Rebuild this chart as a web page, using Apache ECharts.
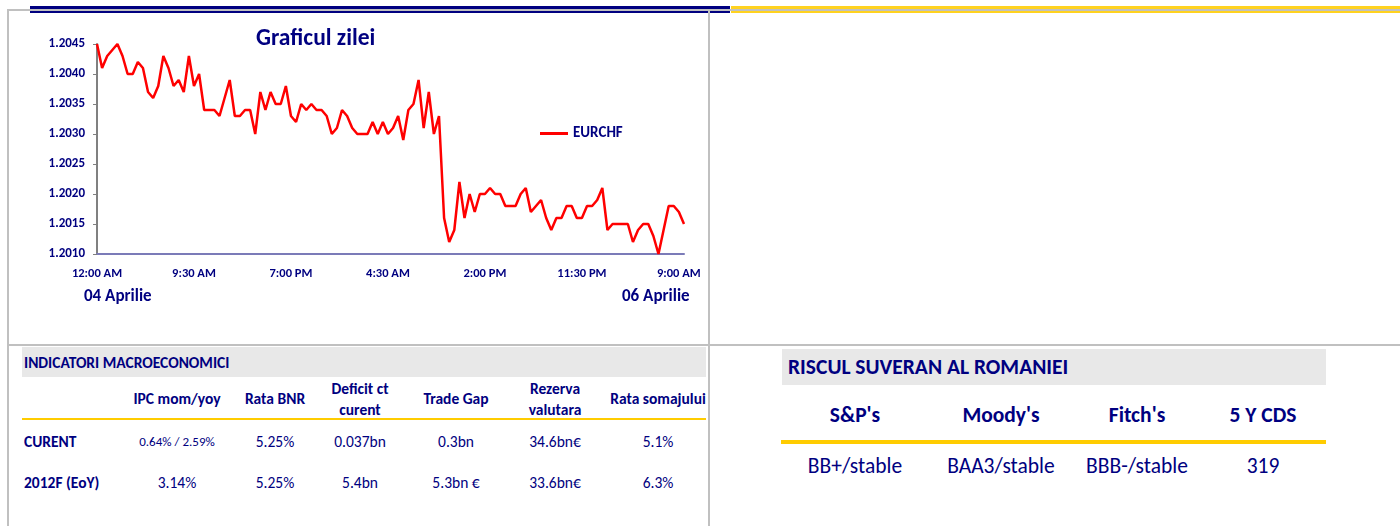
<!DOCTYPE html>
<html>
<head>
<meta charset="utf-8">
<script src="https://cdn.jsdelivr.net/npm/echarts/dist/echarts.min.js"></script>
<style>
  body { margin: 0; width: 1400px; height: 526px; overflow: hidden; background: #fff;
         font-family: Carlito, Lato, "Liberation Sans", sans-serif; color: #000080; position: relative; }
  .abs { position: absolute; }
  .c { position: absolute; transform: translate(-50%, -50%); white-space: nowrap; text-align: center; }
  .l { position: absolute; transform: translate(0, -50%); white-space: nowrap; }
  #graficzilei { position: absolute; left: 0; top: 0; width: 708px; height: 345px; z-index: 2; }
</style>
</head>
<body>
<!-- benzi sus -->
<div class="abs" style="left:30px;top:6px;width:700px;height:3px;background:#000080"></div>
<div class="abs" style="left:30px;top:11px;width:700px;height:2px;background:#000080"></div>
<div class="abs" style="left:731px;top:6px;width:669px;height:3px;background:#ffd21f"></div>
<div class="abs" style="left:731px;top:11px;width:669px;height:2px;background:#ffd21f"></div>
<div class="abs" style="left:7px;top:9px;width:1393px;height:2px;background:#c0c0c0"></div>
<!-- chenar -->
<div class="abs" style="left:7px;top:9px;width:2px;height:517px;background:#c0c0c0"></div>
<div class="abs" style="left:708px;top:9px;width:2px;height:517px;background:#c0c0c0"></div>
<div class="abs" style="left:7px;top:344px;width:1393px;height:2px;background:#c0c0c0"></div>

<div id="graficzilei"></div>
<div id="macro"></div>
<div id="risc"></div>

<script>
  // EURCHF, din 30 in 30 de minute, 04 Aprilie 12:00 AM -> 06 Aprilie 9:30 AM
  var eurchf = [
    1.2045, 1.2041, 1.2043, 1.2044, 1.2045, 1.2043, 1.2040, 1.2040, 1.2042, 1.2041,
    1.2037, 1.2036, 1.2038, 1.2043, 1.2041, 1.2038, 1.2039, 1.2037, 1.2043, 1.2038,
    1.2040, 1.2034, 1.2034, 1.2034, 1.2033, 1.2036, 1.2039, 1.2033, 1.2033, 1.2034,
    1.2034, 1.2030, 1.2037, 1.2034, 1.2037, 1.2035, 1.2035, 1.2038, 1.2033, 1.2032,
    1.2035, 1.2034, 1.2035, 1.2034, 1.2034, 1.2033, 1.2030, 1.2031, 1.2034, 1.2033,
    1.2031, 1.2030, 1.2030, 1.2030, 1.2032, 1.2030, 1.2032, 1.2030, 1.2031, 1.2033,
    1.2029, 1.2034, 1.2035, 1.2039, 1.2031, 1.2037, 1.2030, 1.2033, 1.2016, 1.2012,
    1.2014, 1.2022, 1.2016, 1.2020, 1.2017, 1.2020, 1.2020, 1.2021, 1.2020, 1.2020,
    1.2018, 1.2018, 1.2018, 1.2020, 1.2021, 1.2017, 1.2018, 1.2019, 1.2016, 1.2014,
    1.2016, 1.2016, 1.2018, 1.2018, 1.2016, 1.2016, 1.2018, 1.2018, 1.2019, 1.2021,
    1.2014, 1.2015, 1.2015, 1.2015, 1.2015, 1.2012, 1.2014, 1.2015, 1.2015, 1.2013,
    1.2010, 1.2014, 1.2018, 1.2018, 1.2017, 1.2015
  ];

  // ore (categorii)
  var ore = [];
  for (var i = 0; i < eurchf.length; i++) {
    var m = i * 30, h = Math.floor(m / 60) % 24;
    var h12 = h % 12 === 0 ? 12 : h % 12;
    ore.push(h12 + ':' + (m % 60 ? '30' : '00') + ' ' + (h < 12 ? 'AM' : 'PM'));
  }

  var yMin = 1.2010, yMax = 1.2045, yStep = 0.0005;
  var zile = ['04 Aprilie', '06 Aprilie'];

  // tabel indicatori
  var macroCapete = [['IPC mom/yoy'], ['Rata BNR'], ['Deficit ct', 'curent'], ['Trade Gap'], ['Rezerva', 'valutara'], ['Rata somajului']];
  var macroRanduri = ['CURENT', '2012F (EoY)'];
  var macroCurent = ['0.64% / 2.59%', '5.25%', '0.037bn', '0.3bn', '34.6bn€', '5.1%'];
  var macro2012 = ['3.14%', '5.25%', '5.4bn', '5.3bn €', '33.6bn€', '6.3%'];

  // tabel risc suveran
  var agentii = ["S&P's", "Moody's", "Fitch's", '5 Y CDS'];
  var ratinguri = ['BB+/stable', 'BAA3/stable', 'BBB-/stable', '319'];

  var navy = '#000080';
  var font = 'Carlito, Lato, "Liberation Sans", sans-serif';

  function initMap() {
    var chart = echarts.init(document.getElementById('graficzilei'));
    var option = {
      animation: false,
      textStyle: { fontFamily: font },
      title: {
        text: 'Graficul zilei', left: 256, top: 27, padding: 0,
        textStyle: { color: navy, fontSize: 23.5, fontWeight: 'bold', fontFamily: font }
      },
      legend: {
        data: ['EURCHF'], left: 535, top: 121, icon: 'rect', itemWidth: 28, itemHeight: 3,
        itemGap: 4, textStyle: { color: navy, fontSize: 15, fontWeight: 'bold', fontFamily: font }
      },
      grid: { left: 97, top: 44, right: 24, bottom: 91 },
      xAxis: {
        type: 'category', data: ore, boundaryGap: false,
        axisLine: { lineStyle: { color: '#7b7bb8', width: 2 } },
        axisTick: { show: false },
        axisLabel: { interval: 18, margin: 13, color: navy, fontSize: 12.5, fontWeight: 'bold', fontFamily: font }
      },
      yAxis: {
        type: 'value', min: yMin, max: yMax, interval: yStep,
        splitLine: { show: false },
        axisLine: { show: true, lineStyle: { color: '#808080', width: 2 } },
        axisTick: { show: true, length: 4, lineStyle: { color: '#808080' } },
        axisLabel: {
          margin: 12, color: navy, fontSize: 13, fontWeight: 'bold', fontFamily: font,
          formatter: function (v) { return v.toFixed(4); }
        }
      },
      graphic: [
        { type: 'text', left: 84, top: 288, style: { text: zile[0], fill: navy, font: 'bold 17px ' + font } },
        { type: 'text', left: 622, top: 288, style: { text: zile[1], fill: navy, font: 'bold 17px ' + font } }
      ],
      series: [{
        name: 'EURCHF', type: 'line', data: eurchf, symbol: 'none',
        lineStyle: { color: '#ff0000', width: 2.5 }, itemStyle: { color: '#ff0000' }
      }]
    };
    chart.setOption(option);
  }

  function el(parent, cls, x, y, html, style) {
    var d = document.createElement('div');
    d.className = cls;
    d.style.left = x + 'px';
    d.style.top = y + 'px';
    d.style.cssText += style || '';
    d.innerHTML = html;
    parent.appendChild(d);
    return d;
  }

  function tabele() {
    var mc = document.getElementById('macro');
    el(mc, 'abs', 22, 347, '', 'width:684px;height:30px;background:#e8e8e8');
    el(mc, 'l', 24, 362, 'INDICATORI MACROECONOMICI', 'font-weight:bold;font-size:15.5px');
    var xs = [177, 275, 360, 456, 555, 658];
    macroCapete.forEach(function (c, k) {
      if (c.length === 1) el(mc, 'c', xs[k], 398, c[0], 'font-weight:bold;font-size:15.5px');
      else {
        el(mc, 'c', xs[k], 388, c[0], 'font-weight:bold;font-size:15.5px');
        el(mc, 'c', xs[k], 409, c[1], 'font-weight:bold;font-size:15.5px');
      }
    });
    el(mc, 'abs', 22, 418, '', 'width:684px;height:2px;background:#ffcc00');
    el(mc, 'l', 24, 441, macroRanduri[0], 'font-weight:bold;font-size:15.5px');
    el(mc, 'l', 24, 482, macroRanduri[1], 'font-weight:bold;font-size:15.5px');
    macroCurent.forEach(function (v, k) {
      el(mc, 'c', xs[k], 441, v, 'font-size:' + (k === 0 ? 13 : 15.5) + 'px');
    });
    macro2012.forEach(function (v, k) {
      el(mc, 'c', xs[k], 482, v, 'font-size:15.5px');
    });

    var rc = document.getElementById('risc');
    el(rc, 'abs', 782, 349, '', 'width:544px;height:36px;background:#e8e8e8');
    el(rc, 'l', 788, 367, 'RISCUL SUVERAN AL ROMANIEI', 'font-weight:bold;font-size:21.5px');
    var rx = [855, 1001, 1137, 1263];
    agentii.forEach(function (a, k) {
      el(rc, 'c', rx[k], 415, a, 'font-weight:bold;font-size:21.5px');
    });
    el(rc, 'abs', 781, 440, '', 'width:545px;height:4px;background:#ffcc00');
    ratinguri.forEach(function (r, k) {
      el(rc, 'c', rx[k], 466, r, 'font-size:21.5px');
    });
  }

  initMap();
  tabele();
</script>
</body>
</html>
